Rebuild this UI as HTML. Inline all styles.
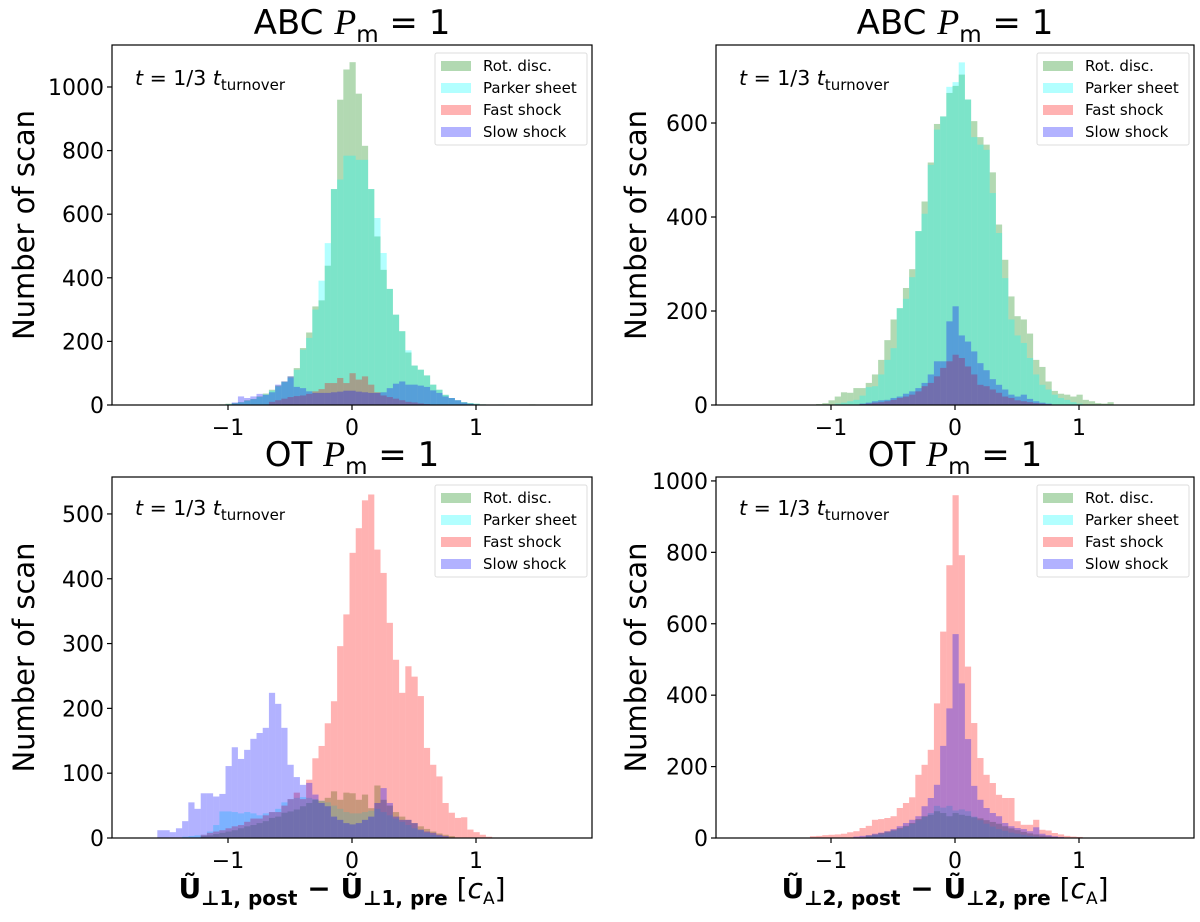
<!DOCTYPE html>
<html><head><meta charset="utf-8">
<style>
body{margin:0;background:#fff;}
svg{display:block;font-family:"DejaVu Sans","Liberation Sans",sans-serif;}
</style></head>
<body>
<svg id="fig" width="1200" height="922" viewBox="0 0 1200 922" xmlns="http://www.w3.org/2000/svg"></svg>
<script>
// Histogram bins: edges at binStart + i*binWidth
const binStart = -1.57;
const binWidth = 0.05;
const seriesNames = ["Rot. disc.", "Parker sheet", "Fast shock", "Slow shock"];
const panelTitles = ["ABC", "ABC", "OT", "OT"];
const tlTicksY = [0, 200, 400, 600, 800, 1000];
const trTicksY = [0, 200, 400, 600];
const blTicksY = [0, 100, 200, 300, 400, 500];
const brTicksY = [0, 200, 400, 600, 800, 1000];
const ticksX = [-1, 0, 1];

// Top-left (ABC, perp 1) : start bin index + counts
const tlGreenStart = 10;
const tlGreen = [2,4,6,9,15,19,27,36,48,61,74,90,116,179,228,310,329,438,679,960,1055,1078,979,815,679,530,425,365,284,232,165,124,111,93,64,48,32,22,15,9,6,4,2,1,0,0,0,0,0,0,2];
const tlCyanStart = 10;
const tlCyan = [1,3,5,8,13,18,25,33,45,58,72,85,111,174,211,300,391,509,679,709,784,784,771,771,679,588,478,365,284,232,172,124,111,93,64,48,32,22,15,9,6,4,2,1,0,2];
const tlRedStart = 18;
const tlRed = [10,15,20,25,28,30,35,43,50,69,69,85,69,100,80,90,64,40,30,25,20,15,10,8,5,3];
const tlBlueStart = 12;
const tlBlue = [8,27,22,27,35,32,40,64,74,90,57,53,43,38,38,38,40,42,45,45,42,40,38,38,40,53,67,74,64,64,61,57,46,38,27,22,15,8,4,2];

// Top-right (ABC, perp 2)
const trGreenStart = 9;
const trGreen = [2,4,10,18,27,26,36,36,47,65,96,138,182,206,249,289,370,433,516,598,614,664,679,703,650,604,570,554,495,384,309,231,189,182,152,96,81,50,30,24,22,18,22,11,8,4,3,6];
const trCyanStart = 12;
const trCyan = [3,5,8,11,20,38,40,65,96,121,206,226,272,370,407,511,586,614,677,687,729,650,570,554,543,451,366,270,182,148,132,100,65,43,33,22,15,11,6,3];
const trRedStart = 16;
const trRed = [2,3,5,6,8,11,15,18,22,29,40,47,61,79,93,107,100,82,65,43,40,33,26,18,15,10,8,6,4,3,2];
const trBlueStart = 16;
const trBlue = [3,5,8,10,11,15,18,24,29,36,47,65,93,93,178,210,148,135,114,89,74,55,43,33,22,18,22,13,8,5,3];

// Bottom-left (OT, perp 1)
const blGreenStart = 7;
const blGreen = [3,4,6,8,10,12,15,18,20,23,26,31,33,39,41,44,49,54,59,57,62,72,59,70,69,59,67,46,81,59,50,40,33,28,23,18,14,10,7,5,3];
const blCyanStart = 4;
const blCyan = [2,3,4,5,10,20,41,41,40,38,40,38,35,38,40,45,55,60,62,63,62,60,58,55,50,45,40,38,38,40,42,45,40,35,30,25,20,15,12,8,5,3];
const blRedStart = 7;
const blRed = [5,8,10,12,15,18,20,25,30,30,35,40,40,50,60,70,60,90,123,142,177,211,296,345,440,478,521,530,445,409,332,275,224,265,249,219,139,113,95,54,39,31,32,13,9,5,2];
const blBlueStart = 0;
const blBlue = [12,12,9,15,26,55,45,69,69,64,68,111,140,122,136,153,162,170,224,207,170,113,94,82,85,67,54,49,33,28,23,21,23,28,33,54,77,54,33,28,28,23,13,10,8,5,3];

// Bottom-right (OT, perp 2)
const brGreenStart = 17;
const brGreen = [7,10,14,18,22,28,34,42,53,61,65,75,70,61,70,65,62,58,55,50,45,40,33,27,22,17,13,10,7,5,3];
const brCyanStart = 17;
const brCyan = [5,8,10,15,20,25,32,40,50,60,70,90,85,90,77,80,75,60,50,40,32,25,20,15,12,9,6,4];
const brRedStart = 8;
const brRed = [5,6,8,9,10,12,16,19,28,34,51,53,56,61,84,98,114,177,205,247,377,578,764,960,792,480,322,224,177,154,121,112,112,47,37,37,51,23,21,14,10,6,4,3];
const brBlueStart = 15;
const brBlue = [4,6,8,12,15,19,25,33,42,51,61,89,112,149,258,363,571,433,277,146,107,84,70,61,42,33,28,25,19,30,12,8,5,3];

const NS = "http://www.w3.org/2000/svg";
const svg = document.getElementById("fig");
function mk(tag, attrs, parent) {
  const e = document.createElementNS(NS, tag);
  for (const k in attrs) e.setAttribute(k, attrs[k]);
  (parent || svg).appendChild(e);
  return e;
}
const colors = ["#008000", "#00ffff", "#ff0000", "#0000ff"];

const panels = [
  {id:"top-left", L:112, R:592, T:45, B:405, xc:352, yMax:1132, ticks:tlTicksY, title:panelTitles[0],
   series:[[tlGreenStart,tlGreen],[tlCyanStart,tlCyan],[tlRedStart,tlRed],[tlBlueStart,tlBlue]], ylab:26, xl:null},
  {id:"top-right", L:716, R:1194, T:45, B:405, xc:955, yMax:766, ticks:trTicksY, title:panelTitles[1],
   series:[[trGreenStart,trGreen],[trCyanStart,trCyan],[trRedStart,trRed],[trBlueStart,trBlue]], ylab:638, xl:null},
  {id:"bottom-left", L:112, R:592, T:477, B:838, xc:352, yMax:557, ticks:blTicksY, title:panelTitles[2],
   series:[[blGreenStart,blGreen],[blCyanStart,blCyan],[blRedStart,blRed],[blBlueStart,blBlue]], ylab:26, xl:"1"},
  {id:"bottom-right", L:716, R:1194, T:477, B:838, xc:955, yMax:1011, ticks:brTicksY, title:panelTitles[3],
   series:[[brGreenStart,brGreen],[brCyanStart,brCyan],[brRedStart,brRed],[brBlueStart,brBlue]], ylab:638, xl:"2"}
];

panels.forEach(p => {
  const g = mk("g", {});
  
  
  const xs = v => p.xc + v * 124;
  const ys = v => p.B - v * (p.B - p.T) / p.yMax;
  const clipId = "clip-" + p.id;
  const cp = mk("clipPath", {id: clipId}, g);
  mk("rect", {x:p.L, y:p.T, width:p.R-p.L, height:p.B-p.T}, cp);
  const bars = mk("g", {"clip-path": "url(#" + clipId + ")"}, g);
  p.series.forEach((s, si) => {
    const sg = mk("g", {}, bars);
    
    
    s[1].forEach((v, j) => {
      if (v <= 0) return;
      const i = s[0] + j;
      const x0 = xs(binStart + i * binWidth), x1 = xs(binStart + (i + 1) * binWidth);
      const r = mk("rect", {x:x0, y:ys(v), width:x1 - x0, height:p.B - ys(v), fill:colors[si], "fill-opacity":0.3});
      
      
      sg.appendChild(r);
    });
  });
  const frame = mk("rect", {x:p.L, y:p.T, width:p.R-p.L, height:p.B-p.T, fill:"none", stroke:"#000", "stroke-width":1.2}, g);
  
  
  p.ticks.forEach(t => {
    const y = ys(t);
    mk("line", {x1:p.L-5, x2:p.L, y1:y, y2:y, stroke:"#000", "stroke-width":1.2}, g);
    const tx = mk("text", {x:p.L-8, y:y+8, "text-anchor":"end", "font-size":22}, g);
    tx.textContent = t;
    
    
  });
  ticksX.forEach(t => {
    const x = xs(t);
    mk("line", {x1:x, x2:x, y1:p.B, y2:p.B+5, stroke:"#000", "stroke-width":1.2}, g);
    const tx = mk("text", {x:x, y:p.B+30, "text-anchor":"middle", "font-size":22}, g);
    tx.textContent = t < 0 ? "\u2212" + Math.abs(t) : t;
    
    
  });
  const tt = mk("text", {x:(p.L+p.R)/2, y:p.T-11, "text-anchor":"middle", "font-size":34}, g);
  tt.innerHTML = p.title + ' <tspan font-family="Liberation Serif" font-style="italic" font-size="36">P</tspan><tspan font-size="23" dy="8">m</tspan><tspan dy="-8"> = 1</tspan>';
  
  
  const yl = mk("text", {x:p.ylab + 8, y:(p.T+p.B)/2, "text-anchor":"middle", "font-size":29, transform:"rotate(-90 " + (p.ylab+8) + " " + ((p.T+p.B)/2) + ")"}, g);
  yl.textContent = "Number of scan";
  
  
  const an = mk("text", {x:p.L+23, y:p.T+(p.id.startsWith("top")?40:38), "font-size":20.5}, g);
  an.innerHTML = '<tspan font-style="italic">t</tspan> = 1/3 <tspan font-style="italic">t</tspan><tspan font-size="15" dy="5">turnover</tspan>';
  
  
  const lx = p.R - 157, ly = p.T + 8;
  const lg = mk("g", {}, g);
  
  
  mk("rect", {x:lx, y:ly, width:152, height:92, fill:"#fff", "fill-opacity":0.85, stroke:"#ddd", rx:2}, lg);
  seriesNames.forEach((n, si) => {
    const ey = ly + 13 + si * 22;
    const pr = mk("rect", {x:lx+6, y:ey-5, width:30, height:10, fill:colors[si], "fill-opacity":0.3}, lg);
    
    
    const et = mk("text", {x:lx+48, y:ey+5, "font-size":15}, lg);
    et.textContent = n;
    
    
  });
  if (p.xl) {
    const xl = mk("text", {x:(p.L+p.R)/2 - 10, y:898, "text-anchor":"middle", "font-size":28, "font-weight":"bold"}, g);
    xl.innerHTML = 'Ũ<tspan font-size="20" dy="7">⊥' + p.xl + ', post</tspan><tspan dy="-7"> − </tspan>Ũ<tspan font-size="20" dy="7">⊥' + p.xl + ', pre</tspan><tspan dy="-7" font-weight="normal"> [<tspan font-style="italic">c</tspan><tspan font-size="17" dy="6">A</tspan><tspan dy="-6">]</tspan></tspan>';
    
    
  }
});
</script>
</body></html>
